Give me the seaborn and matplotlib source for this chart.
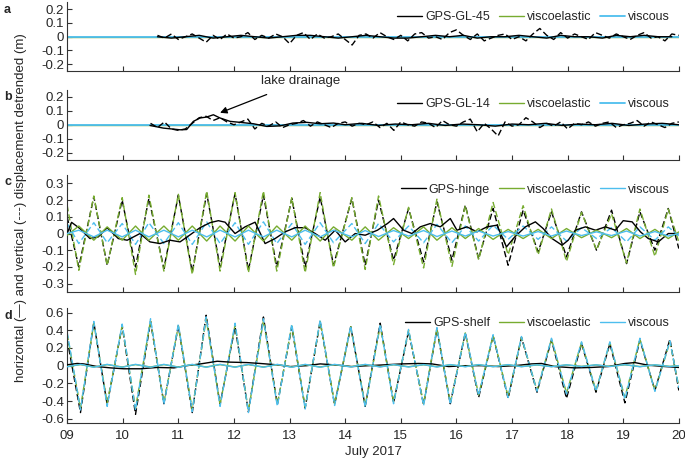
import numpy as np
import matplotlib
matplotlib.use("Agg")
import matplotlib.pyplot as plt
from matplotlib.ticker import FuncFormatter
import seaborn as sns

# --- colours ---
BLACK = "#000000"
GREEN = "#77AC30"
BLUE = "#4DBEEE"

# --- panel a: GPS-GL-45 (3-hourly vertical, 6-hourly horizontal) ---
a_vert_start = 10.625
a_vert = [0.01, -0.01, 0.02, -0.02, 0.00, 0.02, -0.01, -0.04, 0.01, -0.02,
          0.02, -0.01, 0.00, 0.03, -0.02, 0.01, -0.01, 0.02, 0.00, -0.05,
          0.01, 0.03, -0.02, 0.02, -0.01, 0.00, 0.02, -0.02, -0.06, 0.01,
          0.02, -0.01, 0.03, 0.00, -0.02, 0.01, -0.03, 0.02, 0.03, -0.01,
          0.00, -0.02, 0.03, 0.05, 0.01, -0.02, 0.02, -0.03, -0.01, 0.01,
          0.02, -0.02, 0.00, -0.03, 0.02, 0.06, 0.01, -0.02, 0.03, -0.01,
          0.02, 0.00, -0.02, 0.03, 0.01, -0.01, 0.02, 0.00, -0.02, 0.01,
          0.03, -0.01, 0.00, -0.03, 0.02, 0.01]
a_horiz_start = 10.625
a_horiz = [0.00, -0.01, 0.00, 0.01, -0.01, 0.00, 0.01, 0.00, -0.01, 0.00,
           0.01, 0.01, 0.00, -0.01, 0.00, 0.01, 0.00, -0.01, -0.01, 0.00,
           0.01, 0.00, 0.01, -0.01, 0.00, 0.00, 0.01, 0.00, -0.01, 0.01,
           0.00, 0.00, -0.01, 0.01, 0.00, 0.01, 0.00, 0.00]

# --- panel b: GPS-GL-14 ---
b_vert_start = 10.5
b_vert = [0.01, -0.02, 0.02, -0.03, -0.04, -0.03, 0.01, 0.05, 0.06, 0.03,
          0.05, 0.02, 0.00, 0.02, 0.04, -0.03, 0.01, -0.01, 0.02, -0.02,
          0.00, 0.01, 0.03, -0.01, 0.02, 0.00, -0.02, 0.01, 0.02, -0.01,
          0.01, 0.00, 0.02, -0.02, 0.01, -0.04, 0.02, 0.00, -0.01, 0.02,
          0.01, -0.02, 0.03, 0.00, -0.01, 0.02, 0.04, -0.05, 0.01, -0.03,
          -0.08, 0.02, -0.01, 0.00, 0.05, 0.02, -0.02, 0.01, -0.01, 0.02,
          -0.03, 0.01, 0.00, 0.02, -0.01, 0.01, 0.02, -0.02, 0.00, 0.01,
          0.03, -0.01, 0.02, 0.00, -0.02, 0.01, 0.02]
b_horiz_t = [10.49, 10.73, 11.03, 11.15, 11.27, 11.39, 11.51, 11.63, 11.75, 11.93,
             12.11, 12.35, 12.59, 12.83, 13.06, 13.31, 13.55, 13.79,
             14.0, 14.3, 14.6, 14.9, 15.2, 15.5, 15.8, 16.1, 16.4, 16.7,
             17.0, 17.3, 17.6, 17.9, 18.2, 18.5, 18.8, 19.1, 19.4, 19.7, 20.0]
b_horiz = [-0.005, -0.024, -0.036, -0.034, 0.024, 0.048, 0.055, 0.071, 0.048, 0.024,
           0.017, 0.007, -0.012, -0.008, 0.012, 0.017, 0.007, 0.012,
           0.0, 0.01, -0.005, 0.005, 0.0, 0.01, -0.005, 0.005, 0.0, -0.01,
           0.005, 0.0, 0.01, -0.005, 0.005, 0.0, 0.01, -0.005, 0.005, 0.01, 0.0]

# models at GL sites (flat)
flat_t = [9.0, 20.0]
flat_v = [0.0, 0.0]

# --- panel c: GPS-hinge (tidal extrema) ---
c_t = [9.00, 9.21, 9.48, 9.72, 9.99, 10.23, 10.47, 10.74, 11.00, 11.25,
       11.51, 11.75, 12.02, 12.26, 12.53, 12.77, 13.04, 13.28, 13.55, 13.79,
       14.12, 14.36, 14.60, 14.87, 15.14, 15.41, 15.65, 15.92, 16.16, 16.40,
       16.66, 16.93, 17.20, 17.47, 17.71, 17.98, 18.25, 18.52, 18.79, 19.06,
       19.30, 19.57, 19.81, 20.00]
c_gps_vert = [0.10, -0.20, 0.22, -0.19, 0.20, -0.20, 0.21, -0.21, 0.23, -0.23,
              0.24, -0.20, 0.24, -0.22, 0.23, -0.20, 0.21, -0.20, 0.22, -0.19,
              0.21, -0.19, 0.20, -0.16, 0.15, -0.17, 0.19, -0.16, 0.17, -0.15,
              0.15, -0.19, 0.14, -0.11, 0.13, -0.14, 0.13, -0.10, 0.14, -0.18,
              0.13, -0.10, 0.15, -0.09]
c_ve_vert = [0.17, -0.22, 0.225, -0.19, 0.215, -0.245, 0.23, -0.225, 0.235, -0.245,
             0.255, -0.225, 0.245, -0.235, 0.255, -0.225, 0.215, -0.235, 0.245, -0.205,
             0.215, -0.215, 0.225, -0.186, 0.157, -0.206, 0.206, -0.196, 0.167, -0.157,
             0.186, -0.127, 0.167, -0.127, 0.147, -0.167, 0.127, -0.098, 0.118, -0.176,
             0.147, -0.137, 0.147, -0.05]
c_vi_vert = [0.06, -0.06, 0.065, -0.055, 0.06, -0.065, 0.065, -0.06, 0.065, -0.065,
             0.07, -0.06, 0.065, -0.065, 0.07, -0.06, 0.06, -0.065, 0.065, -0.055,
             0.06, -0.06, 0.06, -0.05, 0.045, -0.055, 0.055, -0.055, 0.045, -0.045,
             0.05, -0.035, 0.045, -0.035, 0.04, -0.045, 0.035, -0.03, 0.035, -0.05,
             0.04, -0.04, 0.04, -0.015]
c_ve_horiz = [-0.01, 0.045, -0.04, 0.04, -0.04, 0.045, -0.04, 0.045, -0.04, 0.045,
              -0.045, 0.045, -0.045, 0.045, -0.045, 0.045, -0.04, 0.045, -0.045, 0.04,
              -0.04, 0.04, -0.04, 0.035, -0.03, 0.04, -0.04, 0.035, -0.03, 0.03,
              -0.035, 0.025, -0.03, 0.025, -0.03, 0.03, -0.025, 0.02, -0.025, 0.03,
              -0.03, 0.025, -0.03, 0.01]
c_vi_horiz = [0.0, 0.02, -0.02, 0.02, -0.02, 0.02, -0.02, 0.02, -0.02, 0.02,
              -0.02, 0.02, -0.02, 0.02, -0.02, 0.02, -0.02, 0.02, -0.02, 0.02,
              -0.02, 0.018, -0.018, 0.018, -0.015, 0.018, -0.018, 0.015, -0.015, 0.015,
              -0.015, 0.012, -0.015, 0.012, -0.015, 0.015, -0.012, 0.01, -0.012, 0.015,
              -0.015, 0.012, -0.015, 0.0]
c_gps_horiz_t = [9.00, 9.08, 9.23, 9.41, 9.56, 9.72, 9.92, 10.08, 10.31, 10.49,
                 10.67, 10.85, 11.03, 11.16, 11.39, 11.57, 11.72, 11.84, 12.02, 12.20,
                 12.38, 12.56, 12.74, 12.92, 13.10, 13.28, 13.46, 13.64, 13.82, 14.00,
                 14.18, 14.36, 14.58, 14.76, 14.87, 15.05, 15.20, 15.35, 15.53, 15.71,
                 15.89, 16.01, 16.19, 16.37, 16.55, 16.73, 16.90, 17.05, 17.24, 17.42,
                 17.56, 17.72, 17.90, 18.01, 18.14, 18.32, 18.50, 18.68, 18.86, 19.00,
                 19.16, 19.31, 19.45, 19.63, 19.81, 20.00]
c_gps_horiz = [0.0, 0.067, 0.03, -0.03, -0.02, 0.035, -0.03, -0.04, 0.0, -0.05,
               -0.06, -0.04, -0.05, -0.02, 0.035, 0.065, 0.077, 0.068, 0.0, 0.04,
               0.068, -0.06, -0.03, 0.01, 0.035, 0.035, 0.0, -0.04, 0.02, -0.05,
               0.0, -0.01, 0.02, 0.06, 0.09, 0.02, 0.0, 0.04, 0.06, 0.04,
               0.09, 0.02, 0.04, 0.01, 0.04, 0.05, -0.08, -0.02, 0.04, 0.07,
               0.03, -0.03, -0.07, -0.04, 0.02, 0.04, 0.02, 0.04, 0.02, 0.077,
               0.07, 0.01, -0.03, -0.05, 0.0, 0.0]

# --- panel d: GPS-shelf ---
d_t = [9.00, 9.24, 9.48, 9.72, 9.99, 10.23, 10.50, 10.74, 11.00, 11.25,
       11.50, 11.75, 12.02, 12.26, 12.53, 12.78, 13.04, 13.28, 13.55, 13.81,
       14.10, 14.36, 14.63, 14.87, 15.14, 15.41, 15.65, 15.89, 16.16, 16.40,
       16.66, 16.93, 17.17, 17.45, 17.71, 17.98, 18.25, 18.51, 18.76, 19.03,
       19.30, 19.57, 19.84, 20.00]
d_gps_vert = [0.30, -0.53, 0.49, -0.44, 0.45, -0.55, 0.50, -0.43, 0.45, -0.53,
              0.57, -0.44, 0.44, -0.52, 0.55, -0.44, 0.44, -0.48, 0.50, -0.44,
              0.44, -0.46, 0.48, -0.42, 0.39, -0.44, 0.41, -0.43, 0.37, -0.36,
              0.34, -0.37, 0.32, -0.30, 0.29, -0.37, 0.25, -0.30, 0.25, -0.42,
              0.29, -0.28, 0.30, -0.28]
d_ve_vert = [0.36, -0.48, 0.48, -0.42, 0.45, -0.48, 0.51, -0.42, 0.45, -0.50,
             0.53, -0.44, 0.46, -0.51, 0.51, -0.44, 0.45, -0.47, 0.50, -0.43,
             0.44, -0.45, 0.45, -0.41, 0.40, -0.43, 0.42, -0.42, 0.37, -0.33,
             0.34, -0.35, 0.32, -0.28, 0.30, -0.31, 0.26, -0.28, 0.26, -0.36,
             0.30, -0.28, 0.27, -0.24]
d_vi_vert = [0.38, -0.50, 0.50, -0.46, 0.47, -0.50, 0.53, -0.44, 0.47, -0.52,
             0.55, -0.46, 0.48, -0.53, 0.53, -0.46, 0.47, -0.49, 0.52, -0.45,
             0.45, -0.47, 0.47, -0.43, 0.41, -0.45, 0.43, -0.44, 0.38, -0.34,
             0.35, -0.36, 0.33, -0.29, 0.31, -0.32, 0.27, -0.29, 0.27, -0.38,
             0.31, -0.29, 0.28, -0.25]
d_ve_horiz = [-0.01, 0.012, -0.015, 0.012, -0.015, 0.012, -0.015, 0.012, -0.015, 0.012,
              -0.015, 0.012, -0.015, 0.012, -0.015, 0.012, -0.015, 0.012, -0.015, 0.012,
              -0.012, 0.012, -0.012, 0.01, -0.012, 0.01, -0.012, 0.01, -0.01, 0.01,
              -0.01, 0.01, -0.01, 0.008, -0.01, 0.008, -0.008, 0.008, -0.008, 0.01,
              -0.01, 0.008, -0.008, 0.0]
d_vi_horiz = [-0.012, 0.015, -0.018, 0.015, -0.018, 0.015, -0.018, 0.015, -0.018, 0.015,
              -0.018, 0.015, -0.018, 0.015, -0.018, 0.015, -0.018, 0.015, -0.018, 0.015,
              -0.015, 0.015, -0.015, 0.012, -0.015, 0.012, -0.015, 0.012, -0.012, 0.012,
              -0.012, 0.012, -0.012, 0.01, -0.012, 0.01, -0.01, 0.01, -0.01, 0.012,
              -0.012, 0.01, -0.01, 0.0]
d_gps_horiz_t = [9.00, 9.18, 9.30, 9.54, 9.78, 10.02, 10.32, 10.62, 10.92, 11.15,
                 11.40, 11.70, 11.93, 12.23, 12.47, 12.77, 13.01, 13.31, 13.55, 13.79,
                 14.12, 14.42, 14.72, 15.02, 15.32, 15.56, 15.86, 16.16, 16.46, 16.75,
                 17.05, 17.35, 17.53, 17.77, 18.13, 18.43, 18.73, 19.03, 19.21, 19.45,
                 19.75, 20.00]
d_gps_horiz = [0.01, 0.025, 0.02, -0.01, -0.025, -0.035, -0.035, -0.02, -0.025, 0.0,
               0.02, 0.05, 0.04, 0.035, 0.025, 0.01, -0.01, 0.0, 0.02, 0.01,
               -0.01, 0.0, 0.01, 0.02, 0.025, 0.02, -0.01, 0.0, 0.0, -0.01,
               0.0, 0.02, 0.025, -0.01, -0.025, -0.02, -0.01, 0.025, 0.035, 0.005,
               -0.01, -0.02]

sns.set_style("ticks")
plt.rcParams["font.family"] = ["Liberation Sans", "DejaVu Sans"]
plt.rcParams["axes.unicode_minus"] = False
plt.rcParams["xtick.direction"] = "in"
plt.rcParams["ytick.direction"] = "in"

fig = plt.figure(figsize=(6.85, 4.62), dpi=100)
L, W = 0.098, 0.893
ax_a = fig.add_axes([L, 0.846, W, 0.149])
ax_b = fig.add_axes([L, 0.654, W, 0.152])
ax_c = fig.add_axes([L, 0.368, W, 0.253])
ax_d = fig.add_axes([L, 0.084, W, 0.249])

LW = 1.0
DASH = (0, (4.5, 2.2))
FS = 9.5


def line(ax, t, v, color, dashed=False, label=None, z=2, lw=LW):
    sns.lineplot(x=np.asarray(t, float), y=np.asarray(v, float), ax=ax, color=color,
                 lw=lw, linestyle=DASH if dashed else "-", label=label,
                 legend=False, zorder=z, solid_joinstyle="round",
                 dash_joinstyle="round")


def grid_t(start, vals, step):
    return start + step * np.arange(len(vals))


# panel a
line(ax_a, flat_t, flat_v, GREEN, label="viscoelastic")
line(ax_a, flat_t, flat_v, BLUE, label="viscous", lw=1.3)
line(ax_a, grid_t(a_vert_start, a_vert, 0.125), a_vert, BLACK, dashed=True, z=3)
line(ax_a, grid_t(a_horiz_start, a_horiz, 0.25), a_horiz, BLACK, label="GPS-GL-45", z=3)

# panel b
line(ax_b, flat_t, flat_v, GREEN, label="viscoelastic")
line(ax_b, flat_t, flat_v, BLUE, label="viscous", lw=1.3)
line(ax_b, grid_t(b_vert_start, b_vert, 0.125), b_vert, BLACK, dashed=True, z=3)
line(ax_b, b_horiz_t, b_horiz, BLACK, label="GPS-GL-14", z=3)

# panel c
line(ax_c, c_t, c_gps_vert, BLACK, dashed=True)
line(ax_c, c_t, c_ve_vert, GREEN, dashed=True)
line(ax_c, c_t, c_vi_vert, BLUE, dashed=True)
line(ax_c, c_gps_horiz_t, c_gps_horiz, BLACK, label="GPS-hinge", z=3)
line(ax_c, c_t, c_ve_horiz, GREEN, label="viscoelastic", z=3)
line(ax_c, c_t, c_vi_horiz, BLUE, label="viscous", z=3)

# panel d
line(ax_d, d_t, d_gps_vert, BLACK, dashed=True)
line(ax_d, d_t, d_ve_vert, GREEN, dashed=True)
line(ax_d, d_t, d_vi_vert, BLUE, dashed=True)
line(ax_d, d_gps_horiz_t, d_gps_horiz, BLACK, label="GPS-shelf", z=3)
line(ax_d, d_t, d_ve_horiz, GREEN, label="viscoelastic", z=3)
line(ax_d, d_t, d_vi_horiz, BLUE, label="viscous", z=3)

fmt_y = FuncFormatter(lambda v, p: ("%g" % round(v, 2)))
panels = [(ax_a, "a", 0.25, 0.1, "GPS-GL-45"),
          (ax_b, "b", 0.25, 0.1, "GPS-GL-14"),
          (ax_c, "c", 0.35, 0.1, "GPS-hinge"),
          (ax_d, "d", 0.65, 0.2, "GPS-shelf")]
for ax, letter, lim, step, gps in panels:
    ax.set_xlim(9, 20)
    ax.set_ylim(-lim, lim)
    top = np.floor(lim / step + 1e-9) * step
    ax.set_yticks(np.round(np.arange(-top, top + step / 2, step), 2))
    ax.yaxis.set_major_formatter(fmt_y)
    ax.set_xticks(range(9, 21))
    sns.despine(ax=ax)
    for s in ("left", "bottom"):
        ax.spines[s].set_color("#333333")
        ax.spines[s].set_linewidth(0.8)
    ax.tick_params(axis="both", length=3.5, width=0.8, color="#333333",
                   labelsize=FS, pad=2)
    ax.tick_params(axis="x", pad=5)
    ax.set_xlabel("")
    ax.set_ylabel("")
    # panel letter, a few pixels below the axes top, at the figure's left edge
    y1 = ax.get_position().y1
    fig.text(0.006, y1 - 0.016, letter, fontsize=9, fontweight="bold",
             va="center", ha="left")
    handles, labels = ax.get_legend_handles_labels()
    order = [labels.index(gps), labels.index("viscoelastic"), labels.index("viscous")]
    ax.legend([handles[i] for i in order], [labels[i] for i in order],
              loc="upper right", ncol=3, frameon=False, fontsize=9,
              handlelength=2.0, handletextpad=0.25, columnspacing=0.7,
              borderaxespad=0.3)
    if ax is not ax_d:
        ax.tick_params(axis="x", labelbottom=False)

ax_d.xaxis.set_major_formatter(FuncFormatter(lambda v, p: "%02d" % int(round(v))))
ax_d.set_xlabel("July 2017", fontsize=FS, labelpad=3)

ax_b.annotate("lake drainage", xy=(11.75, 0.085), xytext=(13.2, 0.31),
              ha="center", va="center", fontsize=FS, annotation_clip=False,
              arrowprops=dict(arrowstyle="-|>", color="black", lw=0.9,
                              shrinkA=8, shrinkB=0, mutation_scale=10))

fig.text(0.031, 0.55, "horizontal (\u2014) and vertical (---) displacement detrended (m)",
         rotation=90, va="center", ha="center", fontsize=FS)

fig.savefig("out.png", dpi=100)
